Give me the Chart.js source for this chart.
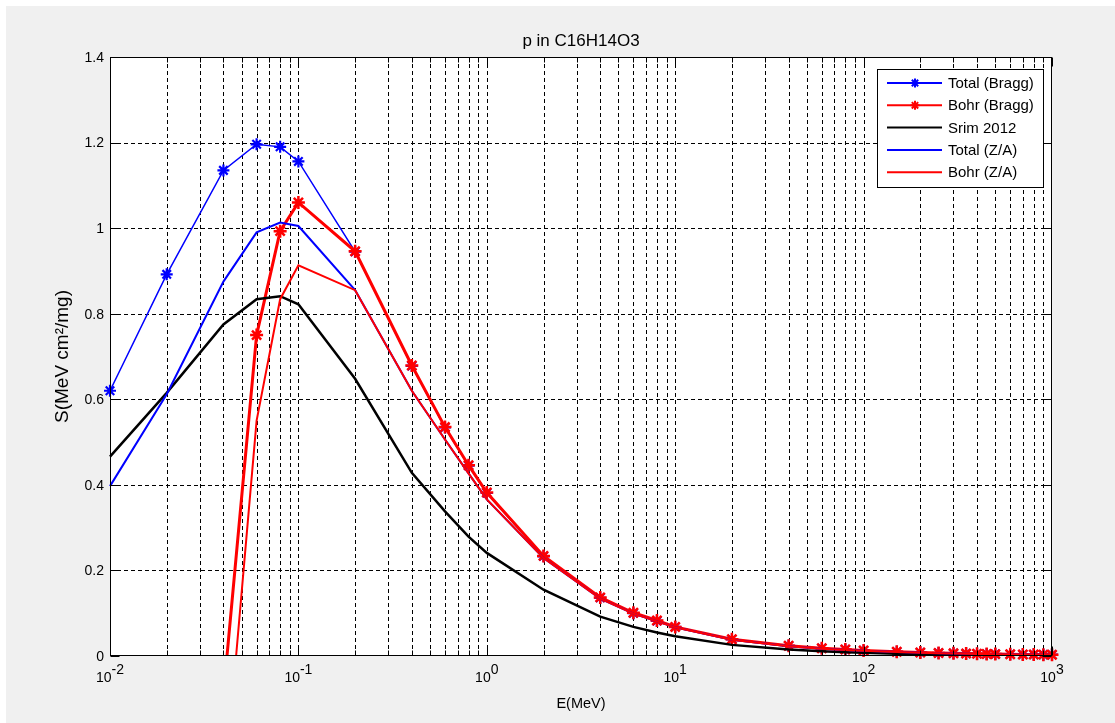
<!DOCTYPE html>
<html>
<head>
<meta charset="utf-8">
<title>p in C16H14O3</title>
<script src="https://cdn.jsdelivr.net/npm/chart.js@4.4.1/dist/chart.umd.min.js"></script>
<style>
  html, body { margin: 0; padding: 0; background: #ffffff; }
  #wrap { position: relative; width: 1115px; height: 723px; }
  canvas { display: block; }
</style>
</head>
<body>
<div id="wrap"><canvas id="chart" width="1115" height="723"></canvas></div>
<script>
// Proton stopping power in C16H14O3, S in MeV cm^2/mg versus E in MeV
const ENERGY = [0.01, 0.02, 0.04, 0.06, 0.08, 0.1, 0.2, 0.4, 0.6, 0.8, 1, 2, 4, 6, 8, 10, 20, 40, 60, 80,
                100, 150, 200, 250, 300, 350, 400, 450, 500, 600, 700, 800, 900, 1000];

const TOTAL_BRAGG = [0.620, 0.892, 1.135, 1.196, 1.190, 1.156, 0.945, 0.678, 0.534, 0.445, 0.381, 0.233, 0.136,
                     0.100, 0.082, 0.068, 0.039, 0.024, 0.018, 0.015, 0.013, 0.010, 0.0082, 0.0070, 0.0062,
                     0.0056, 0.0051, 0.0047, 0.0044, 0.0040, 0.0037, 0.0034, 0.0032, 0.0030];

const BOHR_BRAGG = [null, null, -0.09, 0.750, 0.993, 1.060, 0.946, 0.679, 0.535, 0.446, 0.382, 0.234, 0.137,
                    0.101, 0.083, 0.068, 0.039, 0.024, 0.018, 0.015, 0.013, 0.010, 0.0082, 0.0070, 0.0062,
                    0.0056, 0.0051, 0.0047, 0.0044, 0.0040, 0.0037, 0.0034, 0.0032, 0.0030];

const SRIM_2012 = [0.466, 0.615, 0.775, 0.834, 0.841, 0.822, 0.648, 0.428, 0.338, 0.279, 0.241, 0.155, 0.092,
                   0.068, 0.055, 0.046, 0.026, 0.015, 0.011, 0.0088, 0.0074, 0.0054, 0.0043, 0.0036, 0.0031,
                   0.0027, 0.0024, 0.0022, 0.0020, 0.0017, 0.0015, 0.0014, 0.0013, 0.0012];

const TOTAL_ZA = [0.397, 0.612, 0.875, 0.990, 1.013, 1.005, 0.855, 0.620, 0.506, 0.427, 0.366, 0.229, 0.134,
                  0.099, 0.081, 0.067, 0.038, 0.023, 0.017, 0.014, 0.012, 0.0095, 0.0078, 0.0067, 0.0059,
                  0.0053, 0.0049, 0.0045, 0.0042, 0.0038, 0.0035, 0.0033, 0.0031, 0.0029];

const BOHR_ZA = [null, null, -0.34, 0.550, 0.834, 0.913, 0.855, 0.620, 0.506, 0.427, 0.366, 0.229, 0.134,
                 0.099, 0.081, 0.067, 0.038, 0.023, 0.017, 0.014, 0.012, 0.0095, 0.0078, 0.0067, 0.0059,
                 0.0053, 0.0049, 0.0045, 0.0042, 0.0038, 0.0035, 0.0033, 0.0031, 0.0029];

const SERIES_NAMES = ['Total (Bragg)', 'Bohr (Bragg)', 'Srim 2012', 'Total (Z/A)', 'Bohr (Z/A)'];

const X_MIN = 0.01, X_MAX = 1000;
const X_DECADES = [0.01, 0.1, 1, 10, 100, 1000];
const X_EXPONENTS = ['-2', '-1', '0', '1', '2', '3'];
const Y_TICKS = [0, 0.2, 0.4, 0.6, 0.8, 1, 1.2, 1.4];
const Y_TICK_LABELS = ['0', '0.2', '0.4', '0.6', '0.8', '1', '1.2', '1.4'];

const TITLE = 'p in C16H14O3';
const X_LABEL = 'E(MeV)';
const Y_LABEL = 'S(MeV cm\u00B2/mg)';

const FONT = '"Liberation Sans", Arial, Helvetica, sans-serif';
const BLUE = '#0000ff', RED = '#ff0000', BLACK = '#000000';

const points = arr => ENERGY.map((e, i) => ({ x: e, y: arr[i] }));
const noClip = { left: false, right: false, top: false, bottom: false };
const floorClip = { left: false, right: false, top: false, bottom: 0 };

// Figure furniture: background, dashed grid, axes box, ticks, labels and legend box
const figure = {
  id: 'figure',
  beforeDraw(chart) {
    const { ctx, chartArea: a } = chart;
    ctx.save();
    ctx.fillStyle = '#ffffff';
    ctx.fillRect(0, 0, chart.width, chart.height);
    ctx.fillStyle = '#f0f0f0';
    ctx.fillRect(6, 6, chart.width - 6, chart.height - 6);
    ctx.fillStyle = '#ffffff';
    ctx.fillRect(a.left, a.top, a.right - a.left, a.bottom - a.top);
    ctx.restore();
  },
  beforeDatasetsDraw(chart) {
    const { ctx, chartArea: a, scales: { x, y } } = chart;
    ctx.save();
    ctx.strokeStyle = '#000000';
    ctx.lineWidth = 1;
    ctx.setLineDash([4, 3]);
    for (const v of Y_TICKS) {
      const py = Math.round(y.getPixelForValue(v)) + 0.5;
      if (py <= a.top + 1 || py >= a.bottom - 1) continue;
      ctx.beginPath(); ctx.moveTo(a.left, py); ctx.lineTo(a.right, py); ctx.stroke();
    }
    for (let d = 0; d < X_DECADES.length - 1; d++) {
      for (let m = 1; m <= 9; m++) {
        const px = Math.round(x.getPixelForValue(X_DECADES[d] * m)) + 0.5;
        if (px <= a.left + 1 || px >= a.right - 1) continue;
        ctx.beginPath(); ctx.moveTo(px, a.top); ctx.lineTo(px, a.bottom); ctx.stroke();
      }
    }
    ctx.restore();
  },
  afterDraw(chart) {
    const { ctx, chartArea: a, scales: { x, y } } = chart;
    ctx.save();
    ctx.strokeStyle = '#000000';
    ctx.lineWidth = 1;
    ctx.setLineDash([]);
    const L = a.left + 0.5, R = Math.round(a.right) - 0.5, T = a.top + 0.5, B = Math.round(a.bottom) - 0.5;
    ctx.strokeRect(L, T, R - L, B - T);

    // inward tick marks on all four sides
    ctx.beginPath();
    for (let d = 0; d < X_DECADES.length; d++) {
      for (let m = 1; m <= 9; m++) {
        const v = X_DECADES[d] * m;
        if (v > X_MAX * 1.0001) break;
        const px = Math.round(x.getPixelForValue(v)) + 0.5;
        const len = m === 1 ? 9 : 5;
        ctx.moveTo(px, B); ctx.lineTo(px, B - len);
        ctx.moveTo(px, T); ctx.lineTo(px, T + len);
      }
    }
    for (const v of Y_TICKS) {
      const py = Math.round(y.getPixelForValue(v)) + 0.5;
      ctx.moveTo(L, py); ctx.lineTo(L + 9, py);
      ctx.moveTo(R, py); ctx.lineTo(R - 9, py);
    }
    ctx.stroke();

    // y tick labels
    ctx.fillStyle = '#000000';
    ctx.font = '14px ' + FONT;
    ctx.textAlign = 'right';
    ctx.textBaseline = 'middle';
    Y_TICKS.forEach((v, i) => ctx.fillText(Y_TICK_LABELS[i], a.left - 6, y.getPixelForValue(v) + 1));

    // x tick labels as powers of ten
    ctx.textAlign = 'left';
    ctx.textBaseline = 'alphabetic';
    X_DECADES.forEach((v, i) => {
      const px = x.getPixelForValue(v);
      ctx.font = '14px ' + FONT;
      const wb = ctx.measureText('10').width;
      const we = ctx.measureText(X_EXPONENTS[i]).width;
      const x0 = px - (wb + we) / 2;
      ctx.fillText('10', x0, a.bottom + 26);
      ctx.fillText(X_EXPONENTS[i], x0 + wb, a.bottom + 18);
    });

    // title and axis labels
    ctx.textAlign = 'center';
    ctx.font = '17px ' + FONT;
    ctx.fillText(TITLE, (a.left + a.right) / 2, a.top - 11);
    ctx.font = '14.5px ' + FONT;
    ctx.fillText(X_LABEL, (a.left + a.right) / 2, a.bottom + 52);
    ctx.save();
    ctx.translate(68, (a.top + a.bottom) / 2);
    ctx.rotate(-Math.PI / 2);
    ctx.font = '19px ' + FONT;
    ctx.fillText(Y_LABEL, 0, 0);
    ctx.restore();

    // legend box
    const bx = 877, by = 69, bw = 166, bh = 118;
    ctx.fillStyle = '#ffffff';
    ctx.fillRect(bx, by, bw, bh);
    ctx.strokeRect(bx + 0.5, by + 0.5, bw, bh);
    const entries = chart.data.datasets.filter(ds => ds.label && !ds.markersOnly);
    entries.forEach((ds, i) => {
      const ry = by + 14 + i * 22.3;
      ctx.strokeStyle = ds.borderColor;
      ctx.lineWidth = 2;
      ctx.beginPath(); ctx.moveTo(bx + 10, ry); ctx.lineTo(bx + 65, ry); ctx.stroke();
      if (ds.legendMarker) {
        Chart.helpers.drawPoint(ctx, { pointStyle: 'star', radius: 4.5, borderWidth: 2.5 }, bx + 38, ry);
      }
      ctx.fillStyle = '#000000';
      ctx.font = '15px ' + FONT;
      ctx.textAlign = 'left';
      ctx.textBaseline = 'middle';
      ctx.fillText(ds.label, bx + 71, ry + 1);
    });
    ctx.restore();
  }
};

new Chart(document.getElementById('chart'), {
  type: 'line',
  data: {
    datasets: [
      {
        label: SERIES_NAMES[0], data: points(TOTAL_BRAGG), legendMarker: true,
        borderColor: BLUE, backgroundColor: BLUE, borderWidth: 1.5,
        pointStyle: 'star', pointRadius: 6, pointBorderWidth: 2.2, pointBorderColor: BLUE,
        clip: noClip, order: 6
      },
      {
        label: SERIES_NAMES[1], data: points(BOHR_BRAGG), legendMarker: true,
        borderColor: RED, backgroundColor: RED, borderWidth: 3, pointRadius: 0,
        clip: floorClip, order: 5
      },
      {
        markersOnly: true, data: points(BOHR_BRAGG), showLine: false,
        borderColor: RED, backgroundColor: RED,
        pointStyle: 'star', pointBorderColor: RED, pointBorderWidth: 2.5,
        pointRadius: ctx => (ctx.raw && ctx.raw.y !== null && ctx.raw.y >= 0 ? 6.5 : 0),
        clip: noClip, order: 4
      },
      {
        label: SERIES_NAMES[2], data: points(SRIM_2012),
        borderColor: BLACK, backgroundColor: BLACK, borderWidth: 2.5, pointRadius: 0,
        clip: floorClip, order: 3
      },
      {
        label: SERIES_NAMES[3], data: points(TOTAL_ZA),
        borderColor: BLUE, backgroundColor: BLUE, borderWidth: 2, pointRadius: 0,
        clip: floorClip, order: 2
      },
      {
        label: SERIES_NAMES[4], data: points(BOHR_ZA),
        borderColor: RED, backgroundColor: RED, borderWidth: 2, pointRadius: 0,
        clip: floorClip, order: 1
      }
    ]
  },
  options: {
    responsive: false,
    animation: false,
    parsing: true,
    spanGaps: false,
    elements: { line: { tension: 0, fill: false } },
    layout: { padding: { left: 110, right: 63, top: 57, bottom: 67 } },
    scales: {
      x: { type: 'logarithmic', min: X_MIN, max: X_MAX, display: false },
      y: { type: 'linear', min: 0, max: 1.4, display: false }
    },
    plugins: {
      legend: { display: false },
      tooltip: { enabled: false },
      title: { display: false }
    }
  },
  plugins: [figure]
});
</script>
</body>
</html>
